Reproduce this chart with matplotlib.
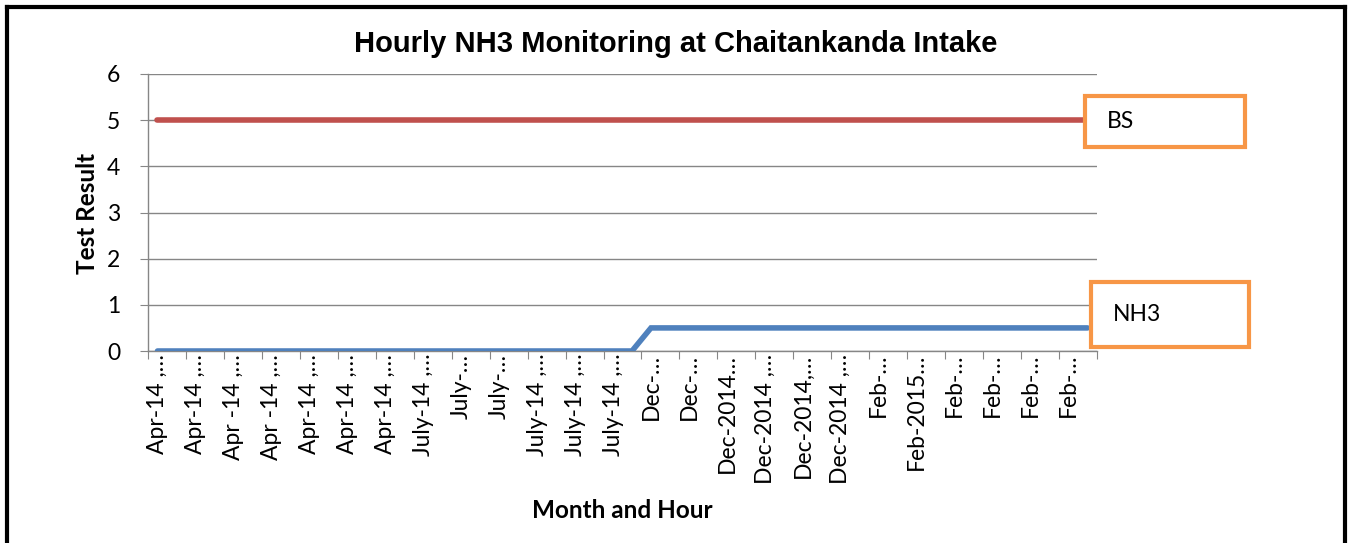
import matplotlib
matplotlib.use("Agg")
import matplotlib.pyplot as plt
from matplotlib.patches import Rectangle
from matplotlib.lines import Line2D
import numpy as np

# hourly readings (one per category), labels shown on every second category
bs_values = [5, 5, 5, 5, 5, 5, 5, 5, 5, 5,
             5, 5, 5, 5, 5, 5, 5, 5, 5, 5,
             5, 5, 5, 5, 5, 5, 5, 5, 5, 5,
             5, 5, 5, 5, 5, 5, 5, 5, 5, 5,
             5, 5, 5, 5, 5, 5, 5, 5, 5, 5]
nh3_values = [0, 0, 0, 0, 0, 0, 0, 0, 0, 0,
              0, 0, 0, 0, 0, 0, 0, 0, 0, 0,
              0, 0, 0, 0, 0, 0, 0.5, 0.5, 0.5, 0.5,
              0.5, 0.5, 0.5, 0.5, 0.5, 0.5, 0.5, 0.5, 0.5, 0.5,
              0.5, 0.5, 0.5, 0.5, 0.5, 0.5, 0.5, 0.5, 0.5, 0.5]
tick_labels = ["Apr-14 ,…", "Apr-14 ,…", "Apr -14 ,…", "Apr -14 ,…",
               "Apr-14 ,…", "Apr-14 ,…", "Apr-14 ,…", "July-14 ,…",
               "July-…", "July-…", "July-14 ,…", "July-14 ,…",
               "July-14 ,…", "Dec-…", "Dec-…", "Dec-2014…",
               "Dec-2014 ,…", "Dec-2014,…", "Dec-2014 ,…", "Feb-…",
               "Feb-2015…", "Feb-…", "Feb-…", "Feb-…", "Feb-…"]

body = "Lato"
W, H = 1351, 543
fig = plt.figure(figsize=(W / 100, H / 100), dpi=100)
ax = fig.add_axes([148 / W, 1 - 351 / H, (1097 - 148) / W, (351 - 74) / H])

x = np.arange(len(bs_values))
ax.plot(x, bs_values, color="#C0504D", lw=4, solid_capstyle="round", zorder=3)
ax.plot(x, nh3_values, color="#4F81BD", lw=4, solid_capstyle="round",
        solid_joinstyle="miter", zorder=3)

ax.set_xlim(-0.5, len(x) - 0.5)
ax.set_ylim(0, 6)
ax.set_yticks(range(0, 7))
ax.yaxis.grid(True, color="#868686", lw=1)
ax.set_axisbelow(True)

ax.set_xticks(np.arange(-0.5, len(x), 2))
ax.set_xticklabels([])
ax.set_xticks(x[::2], minor=True)
ax.set_xticklabels(tick_labels, minor=True, rotation=90, va="top", ha="center",
                   family=body, fontsize=16.5)
ax.tick_params(axis="x", which="major", length=6, color="#868686", direction="out")
ax.tick_params(axis="x", which="minor", length=0, pad=2)
ax.tick_params(axis="y", length=6, color="#868686", pad=14, labelsize=16.5)
for lab in ax.get_yticklabels():
    lab.set_family(body)

for side in ["top", "right"]:
    ax.spines[side].set_visible(False)
for side in ["left", "bottom"]:
    ax.spines[side].set_color("#868686")
    ax.spines[side].set_linewidth(1)

fig.text(676 / W, 1 - 44 / H, "Hourly NH3 Monitoring at Chaitankanda Intake",
         ha="center", va="center", family="Liberation Sans", weight="bold", fontsize=21)
fig.text(88 / W, 1 - 213 / H, "Test Result", rotation=90, ha="center", va="center",
         family=body, weight="bold", fontsize=17.5)
fig.text(622 / W, 1 - 510 / H, "Month and Hour", ha="center", va="center",
         family=body, weight="bold", fontsize=17.5)

# data-label boxes
for (x0, y0, x1, y1, tx, txt) in [(1085, 96, 1245, 147, 1107, "BS"),
                                  (1091, 282, 1249, 347, 1113, "NH3")]:
    fig.patches.append(Rectangle((x0 / W, 1 - y1 / H), (x1 - x0) / W, (y1 - y0) / H,
                                 transform=fig.transFigure, fill=True, facecolor="white",
                                 edgecolor="#F79646", lw=3))
    fig.text(tx / W, 1 - ((y0 + y1) / 2) / H, txt, ha="left", va="center",
             family=body, fontsize=16.5)

# outer frame
for (xa, ya) in [([7, 7], [0, 7]), ([7, 1345], [7, 7]), ([1345, 1345], [7, 0])]:
    fig.add_artist(Line2D([v / W for v in xa], [1 - v / H if v else 0 for v in ya],
                          transform=fig.transFigure, color="black", lw=3))

fig.savefig("out.png", dpi=100)
